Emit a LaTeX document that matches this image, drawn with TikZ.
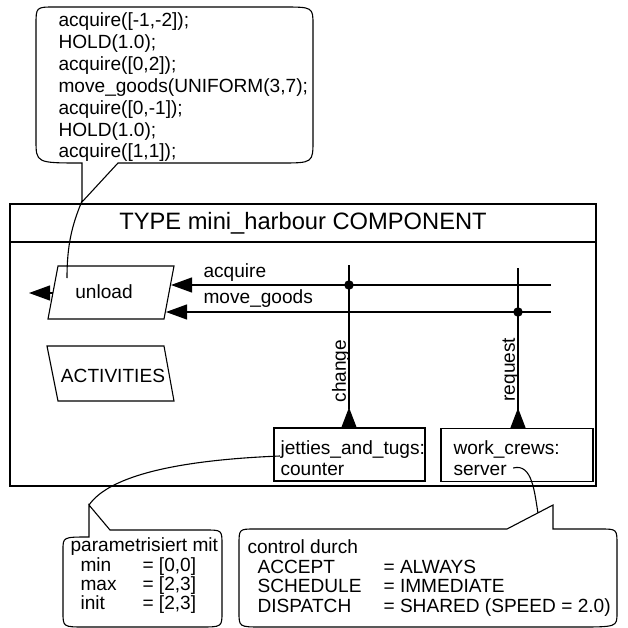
\documentclass[tikz,border=0pt]{standalone}
\usepackage{fontspec}
\setmainfont{Liberation Sans}
\usetikzlibrary{arrows.meta}
\tikzset{%
    txt/.style={inner sep=0pt, anchor=west, text height=13.7pt, text depth=4pt,
        font=\fontsize{19.1}{22}\selectfont},
    dot/.style={inner sep=0pt, circle, fill=black, minimum size=9.5pt},
    comp/.style={draw, inner sep=0pt, minimum height=53pt}
}

\begin{document}
\begin{tikzpicture}[x=1pt, y=-1pt, line width=1.1pt,
        tip/.style={-{Triangle[length=21pt,width=15pt]}},
        uptip/.style={{Triangle[length=20pt,width=15pt,reversed]}-}
        ]
    \useasboundingbox (0,0) rectangle (627,628);

    % note with the unload script
    \draw (36,25) -- (36,140) .. controls (36,163) .. (82,163) -- (82,202)
        -- (118,163) -- (280,163) .. controls (313,163) .. (313,140)
        -- (313,25) .. controls (313,7) .. (282,7) -- (55,7)
        .. controls (36,7) .. (36,25) -- cycle;
    \foreach \stmt [count=\i from 0] in {{acquire([-1,-2]);}, {HOLD(1.0);},
            {acquire([0,2]);}, {move\_goods(UNIFORM(3,7);}, {acquire([0,-1]);},
            {HOLD(1.0);}, {acquire([1,1]);}}
        \node[txt] (s\i) at (58,21.7+21.9*\i) {\stmt};

    % component frame
    \draw (10,204) rectangle (596,486);
    \draw (10,242) -- (596,242);
    \node[font=\fontsize{23.7}{28}\selectfont] (title) at (303,223) {TYPE mini\_harbour COMPONENT};

    % activities
    \draw (58,266) -- (174,266) -- (164,319) -- (48,319) -- cycle;
    \node[txt, anchor=center] (unload) at (104,294) {unload};
    \draw (47,346) -- (164,346) -- (174,401) -- (58,401) -- cycle;
    \node[txt, anchor=center] (act) at (113,378) {ACTIVITIES};

    \coordinate (unload west) at (53,293);
    \coordinate (exit) at (29,293);
    \draw[tip] (unload west) -- (exit);

    % signals into unload
    \coordinate (acq in) at (171,285);
    \coordinate (acq src) at (551,285);
    \coordinate (mg in) at (166,312);
    \coordinate (mg src) at (551,312);
    \draw[tip] (acq src) -- (acq in);
    \draw[tip] (mg src) -- (mg in);
    \node[txt] (acq lbl) at (203,273) {acquire};
    \node[txt] (mg lbl) at (203,299) {move\_goods};

    % resources
    \node[comp, minimum width=151pt] (jt) at (349.5,454.5) {};
    \node[comp, minimum width=152pt] (wc) at (517,455) {};
    \node[txt] (jt1) at (280,450) {jetties\_and\_tugs:};
    \node[txt] (jt2) at (280,471) {counter};
    \node[txt] (wc1) at (453,450) {work\_crews:};
    \node[txt] (wc2) at (453,471) {server};

    \coordinate (chg top) at (349,265);
    \coordinate (req top) at (518,268);
    \draw[uptip] (jt.north -| chg top) -- (chg top);
    \draw[uptip] (wc.north -| req top) -- (req top);
    \node[dot] (d1) at (acq src -| chg top) {};
    \node[dot] (d2) at (mg src -| req top) {};
    \node[txt, rotate=90] (chg) at (341,403) {change};
    \node[txt, rotate=90] (req) at (510,402) {request};

    % note links
    \coordinate (note tip) at (82,201);
    \coordinate (unload hook) at (67,278);
    \draw (note tip) .. controls (72,225) and (67,245) .. (unload hook);
    \coordinate (par tip) at (89,505);
    \coordinate (jt hook) at (280,456);
    \draw (par tip) .. controls (110,475) and (180,460) .. (jt hook);
    \coordinate (ctl tip) at (538,513);
    \draw ([xshift=6pt,yshift=3pt]wc2.east) to[out=15,in=100] (ctl tip);

    % parameter note
    \draw (63,550) -- (63,612) .. controls (63,627) .. (85,627) -- (200,627)
        .. controls (222,627) .. (222,612) -- (222,545) .. controls (222,530) .. (205,530)
        -- (110,530) -- (89,505) -- (89,537) .. controls (63,537) .. (63,550) -- cycle;
    \node[txt] (par0) at (70,547) {parametrisiert mit};
    \foreach \key/\val [count=\i] in {min/{[0,0]}, max/{[2,3]}, init/{[2,3]}} {
        \node[txt] (pk\i) at (80,547+19.3*\i) {\key};
        \node[txt] (pv\i) at (142,547+19.3*\i) {= \val};
    }

    % control note
    \draw (239,545) -- (239,612) .. controls (239,627) .. (262,627) -- (577,627)
        .. controls (617,627) .. (617,613) -- (617,545) .. controls (617,529) .. (600,529)
        -- (553,529) -- (553,505) -- (507,529) -- (255,529)
        .. controls (239,529) .. (239,545) -- cycle;
    \node[txt] (ctl0) at (247,549) {control durch};
    \foreach \key/\val [count=\i] in {ACCEPT/ALWAYS, SCHEDULE/IMMEDIATE,
            DISPATCH/{SHARED (SPEED = 2.0)}} {
        \node[txt] (ck\i) at (257,549+19.5*\i) {\key};
        \node[txt] (cv\i) at (383,549+19.5*\i) {= \val};
    }
\end{tikzpicture}
\end{document}
